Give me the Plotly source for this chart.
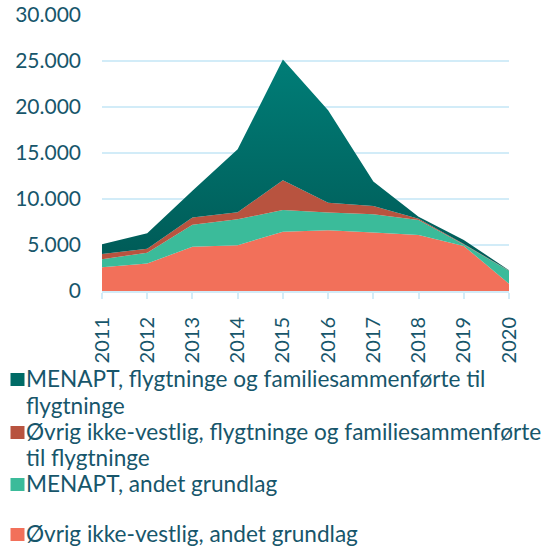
import plotly.graph_objects as go

years = [2011, 2012, 2013, 2014, 2015, 2016, 2017, 2018, 2019, 2020]

# Series values (persons), bottom of the stack first
ovrig_andet = [2570, 3000, 4800, 4970, 6450, 6600, 6350, 6090, 4900, 800]
menapt_andet = [870, 1170, 2400, 2830, 2350, 1920, 2000, 1630, 150, 1400]
ovrig_flykt = [580, 430, 800, 750, 3230, 1080, 900, 130, 50, 30]
menapt_flykt = [1060, 1670, 2900, 6850, 13120, 10050, 2650, 230, 450, 30]

names = [
    "Øvrig ikke-vestlig, andet grundlag",
    "MENAPT, andet grundlag",
    "Øvrig ikke-vestlig, flygtninge og familiesammenførte<br>til flygtninge",
    "MENAPT, flygtninge og familiesammenførte til<br>flygtninge",
]
series = [ovrig_andet, menapt_andet, ovrig_flykt, menapt_flykt]
colors = ["#f2705a", "#3bbb9a", "#b8533f", "#006b66"]

y_ticks = [0, 5000, 10000, 15000, 20000, 25000, 30000]

TXT = "#17566b"
GRID = "#d2ecf8"
FONT = "Lato"
FS_AX = 21
FS_X = 20
FS_LEG = 22.6

fig = go.Figure()
for i, (nm, vals, col) in enumerate(zip(names, series, colors)):
    kw = dict(fillcolor=col)
    if i == 3:
        kw = dict(fillgradient=dict(type="vertical",
                                    colorscale=[[0, "#005c58"], [1, "#007d77"]],
                                    start=4000, stop=25000))
    fig.add_trace(go.Scatter(
        x=years, y=vals, name=nm.replace("<br>", " "),
        mode="lines", stackgroup="one", line=dict(width=0),
        showlegend=False, hoverinfo="skip", **kw))

# plot area in pixels
W, H = 543, 549
L, R, T, B = 102, 34, 15, 258
pw = W - L - R
ph = H - T - B

def px_x(x):
    return (x - L) / pw

def px_y(y):
    return (H - B - y) / ph

annotations = []
shapes = []
# legend, top entry = top of stack
legend_order = [3, 2, 1, 0]
baselines = [[386, 413], [439, 465], [491], [541]]
for idx, bl in zip(legend_order, baselines):
    lines = names[idx].split("<br>")
    b0 = bl[0]
    shapes.append(dict(type="rect", xref="paper", yref="paper",
                       x0=px_x(10.5), x1=px_x(24.5),
                       y0=px_y(b0), y1=px_y(b0 - 13),
                       fillcolor=colors[idx], line=dict(width=0), layer="above"))
    for ln, b in zip(lines, bl):
        annotations.append(dict(
            text=ln, xref="paper", yref="paper",
            x=px_x(24), y=px_y(b - 8), xanchor="left", yanchor="middle",
            showarrow=False, font=dict(family=FONT, size=FS_LEG, color=TXT)))

fig.update_layout(
    width=W, height=H,
    margin=dict(l=L, r=R, t=T, b=B),
    paper_bgcolor="white", plot_bgcolor="white",
    separators=",.",
    font=dict(family=FONT, size=FS_AX, color=TXT),
    showlegend=False,
    hovermode=False,
    annotations=annotations,
    shapes=shapes,
    xaxis=dict(
        range=[2011, 2020], tickvals=years, ticktext=[str(y) for y in years],
        tickangle=-90, showgrid=False, zeroline=False, automargin=False,
        showline=True, linecolor=GRID, linewidth=2,
        ticks="outside", ticklen=6, tickcolor=GRID, tickwidth=2,
        ticklabelstandoff=10,
        tickfont=dict(family=FONT, size=FS_X, color=TXT),
    ),
    yaxis=dict(
        range=[0, 30000], tickvals=y_ticks, tickformat=",d",
        showgrid=True, gridcolor=GRID, gridwidth=1.5, automargin=False,
        zeroline=False, showline=False, ticks="",
        ticklabelstandoff=20,
        tickfont=dict(family=FONT, size=FS_AX, color=TXT),
    ),
)

fig.write_html(
    "out.html",
    config={"displayModeBar": False},
    post_script="document.body.style.margin='0';document.body.style.overflow='hidden';",
)
